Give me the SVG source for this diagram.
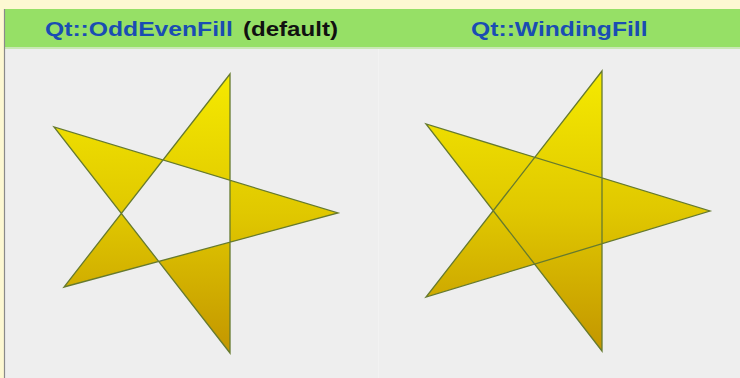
<svg xmlns="http://www.w3.org/2000/svg" width="740" height="378" viewBox="0 0 740 378">
  <style>
    .hdr { font-family: "Liberation Sans", Arial, sans-serif; font-weight: bold; font-size: 21px; }
    .blue { fill: #1a4db3; }
    .black { fill: #111111; }
    .star { fill: url(#gold); stroke: #667a2e; stroke-width: 1.3; stroke-linejoin: miter; }
  </style>
  <defs>
    <linearGradient id="gold" x1="0" y1="0" x2="0" y2="1">
      <stop offset="0" stop-color="#f5ea00"/>
      <stop offset="0.5" stop-color="#e0c800"/>
      <stop offset="1" stop-color="#c39600"/>
    </linearGradient>
  </defs>
  <rect x="0" y="0" width="740" height="378" fill="#fdf8d2"/>
  <rect x="5" y="9" width="735" height="369" fill="#eeeeee"/>
  <rect x="5" y="9" width="735" height="38" fill="#96e066"/>
  <rect x="5" y="47" width="735" height="2" fill="#c9e8b4"/>
  <line x1="4.5" y1="9" x2="4.5" y2="378" stroke="#8a8a8a" stroke-width="1.2"/>
  <line x1="378.5" y1="49" x2="378.5" y2="378" stroke="#f2f2f2" stroke-width="1"/>

  <g id="header-left">
    <text class="hdr blue" transform="translate(45,36) scale(1.175,1)">Qt::OddEvenFill</text>
    <text class="hdr black" transform="translate(243,36) scale(1.147,1)">(default)</text>
  </g>
  <g id="header-right">
    <text class="hdr blue" transform="translate(471,36) scale(1.176,1)">Qt::WindingFill</text>
  </g>

  <g id="star-oddeven">
    <path class="star" fill-rule="evenodd" d="M230,74 L64,287 L338,213 L54,127 L230,353 Z"/>
  </g>
  <g id="star-winding">
    <path class="star" fill-rule="nonzero" d="M602,71 L426,297 L710,211 L426,124 L602,351 Z"/>
  </g>
</svg>
